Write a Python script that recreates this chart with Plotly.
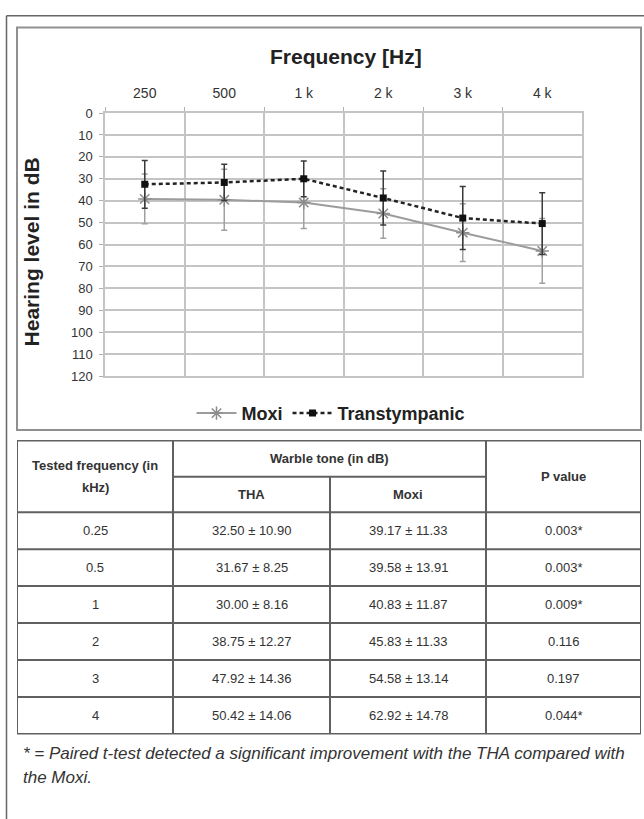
import plotly.graph_objects as go

# ---------------- data ----------------
freq_labels = ["250", "500", "1 k", "2 k", "3 k", "4 k"]
freq_khz = ["0.25", "0.5", "1", "2", "3", "4"]
tha_mean = [32.50, 31.67, 30.00, 38.75, 47.92, 50.42]
tha_sd = [10.90, 8.25, 8.16, 12.27, 14.36, 14.06]
moxi_mean = [39.17, 39.58, 40.83, 45.83, 54.58, 62.92]
moxi_sd = [11.33, 13.91, 11.87, 11.33, 13.14, 14.78]
p_values = ["0.003*", "0.003*", "0.009*", "0.116", "0.197", "0.044*"]
y_ticks = list(range(0, 121, 10))

header_col1 = ["Tested frequency (in", "kHz)"]
header_group = "Warble tone (in dB)"
header_sub = ["THA", "Moxi"]
header_p = "P value"
footnote_lines = [
    "* = Paired t-test detected a significant improvement with the THA compared with",
    "the Moxi.",
]

# ---------------- layout constants ----------------
W, H = 644, 819
def px_x(v):
    return v / W
def px_y(v):
    return 1 - v / H

SANS = "Liberation Sans, Arial, sans-serif"
GRID = "#c4c4c4"
TABLE_LINE = "#606060"
TEXT = "#333333"

fig = go.Figure()

fig.add_trace(go.Scatter(
    x=freq_labels, y=moxi_mean, name="Moxi", mode="lines+markers",
    line=dict(color="#9c9c9c", width=2),
    marker=dict(symbol="asterisk-open", size=11, color="#8c8c8c",
                line=dict(color="#8c8c8c", width=1.5)),
    error_y=dict(type="data", array=moxi_sd, visible=True,
                 color="#a0a0a0", thickness=1.5, width=3),
))
fig.add_trace(go.Scatter(
    x=freq_labels, y=tha_mean, name="Transtympanic", mode="lines+markers",
    line=dict(color="#222222", width=2.5, dash="4px,3px"),
    marker=dict(symbol="square", size=7, color="#111111"),
    error_y=dict(type="data", array=tha_sd, visible=True,
                 color="#3a3a3a", thickness=1.5, width=3),
))

# table coordinates (in table-axis units)
col_edges = [0, 156, 313, 469, 624]
h_sub = 37
h_head = 73
row_h = 37.6
n_rows = len(freq_khz)
t_bottom = h_head + n_rows * row_h

shapes = []
# outer page frame
shapes.append(dict(type="line", xref="paper", yref="paper",
                   x0=px_x(6.5), x1=px_x(6.5), y0=-0.05, y1=px_y(9),
                   line=dict(color="#666666", width=1.5)))
shapes.append(dict(type="line", xref="paper", yref="paper",
                   x0=px_x(6.5), x1=1.05, y0=px_y(9), y1=px_y(9),
                   line=dict(color="#666666", width=1.5)))
# chart box
shapes.append(dict(type="rect", xref="paper", yref="paper",
                   x0=px_x(17), x1=px_x(641), y0=px_y(431), y1=px_y(21),
                   line=dict(color="#909090", width=2), layer="below"))

tl = dict(color=TABLE_LINE, width=2)
shapes.append(dict(type="rect", xref="x2", yref="y2", x0=col_edges[0], x1=col_edges[-1],
                   y0=0, y1=t_bottom, line=tl))
for i, xe in enumerate(col_edges[1:-1]):
    y_start = h_sub if i == 1 else 0
    shapes.append(dict(type="line", xref="x2", yref="y2", x0=xe, x1=xe,
                       y0=y_start, y1=t_bottom, line=tl))
shapes.append(dict(type="line", xref="x2", yref="y2", x0=col_edges[1], x1=col_edges[3],
                   y0=h_sub, y1=h_sub, line=tl))
for r in range(n_rows):
    yy = h_head + r * row_h
    shapes.append(dict(type="line", xref="x2", yref="y2", x0=col_edges[0], x1=col_edges[-1],
                       y0=yy, y1=yy, line=tl))

annotations = []
def cell(text, xc, yc, bold=False, size=13):
    annotations.append(dict(xref="x2", yref="y2", x=xc, y=yc, text=text,
                            showarrow=False, xanchor="center", yanchor="middle",
                            font=dict(family=SANS, size=size, color=TEXT,
                                      weight="bold" if bold else "normal")))

mid = lambda a, b: (a + b) / 2
cell(header_col1[0], mid(col_edges[0], col_edges[1]), h_head / 2 - 10.5, bold=True)
cell(header_col1[1], mid(col_edges[0], col_edges[1]), h_head / 2 + 11, bold=True)
cell(header_group, mid(col_edges[1], col_edges[3]), h_sub / 2, bold=True)
cell(header_sub[0], mid(col_edges[1], col_edges[2]), mid(h_sub, h_head), bold=True)
cell(header_sub[1], mid(col_edges[2], col_edges[3]), mid(h_sub, h_head), bold=True)
cell(header_p, mid(col_edges[3], col_edges[4]), h_head / 2, bold=True)
for r in range(n_rows):
    yc = h_head + (r + 0.5) * row_h
    cell(freq_khz[r], mid(col_edges[0], col_edges[1]), yc)
    cell(f"{tha_mean[r]:.2f} ± {tha_sd[r]:.2f}", mid(col_edges[1], col_edges[2]), yc)
    cell(f"{moxi_mean[r]:.2f} ± {moxi_sd[r]:.2f}", mid(col_edges[2], col_edges[3]), yc)
    cell(p_values[r], mid(col_edges[3], col_edges[4]), yc)

# chart titles
annotations.append(dict(xref="paper", yref="paper", x=px_x(346), y=px_y(50),
                        text="<b>Frequency [Hz]</b>", showarrow=False,
                        xanchor="center", yanchor="middle",
                        font=dict(family=SANS, size=21, color="#222222")))
annotations.append(dict(xref="paper", yref="paper", x=px_x(31), y=px_y(250),
                        text="<b>Hearing level in dB</b>", showarrow=False, textangle=-90,
                        xanchor="center", yanchor="middle",
                        font=dict(family=SANS, size=21, color="#222222")))
# footnote
for i, line in enumerate(footnote_lines):
    annotations.append(dict(xref="paper", yref="paper", x=px_x(21), y=px_y(760 + 25 * i),
                            text=line, showarrow=False, xanchor="left", yanchor="middle",
                            font=dict(family=SANS, size=17, color="#333333",
                                      style="italic")))

fig.update_layout(
    width=W, height=H,
    margin=dict(l=0, r=0, t=0, b=0),
    paper_bgcolor="white", plot_bgcolor="white",
    showlegend=True,
    legend=dict(orientation="h", x=px_x(331), xanchor="center", y=px_y(414), yanchor="middle",
                font=dict(family=SANS, size=18, color="#222222", weight="bold"),
                bgcolor="rgba(0,0,0,0)", itemwidth=40),
    xaxis=dict(domain=[px_x(105), px_x(582)], side="top", type="category",
               tickson="boundaries", ticks="outside", ticklen=4, tickcolor="#b0b0b0",
               showgrid=True, gridcolor=GRID, gridwidth=1.5,
               showline=True, linecolor=GRID, linewidth=1.5, mirror=True,
               tickfont=dict(family=SANS, size=14, color=TEXT), ticklabelstandoff=8,
               range=[-0.5, 5.5], fixedrange=True),
    yaxis=dict(domain=[px_y(376), px_y(108)], range=[120, 0],
               tickvals=y_ticks, ticks="outside", ticklen=4, tickcolor="#b0b0b0",
               showgrid=True, gridcolor=GRID, gridwidth=1.5, zeroline=False,
               showline=True, linecolor=GRID, linewidth=1.5, mirror=True,
               tickfont=dict(family=SANS, size=13, color=TEXT), ticklabelstandoff=4,
               fixedrange=True),
    xaxis2=dict(domain=[px_x(17), px_x(641)], range=[0, col_edges[-1]], visible=False,
                anchor="y2", fixedrange=True),
    yaxis2=dict(domain=[px_y(741), px_y(441)], range=[t_bottom + 0.5, -0.5], visible=False,
                anchor="x2", fixedrange=True),
    shapes=shapes,
    annotations=annotations,
)

fig.write_html("out.html", config={"displayModeBar": False},
               post_script="document.body.style.margin='0';document.body.style.overflow='hidden';")
